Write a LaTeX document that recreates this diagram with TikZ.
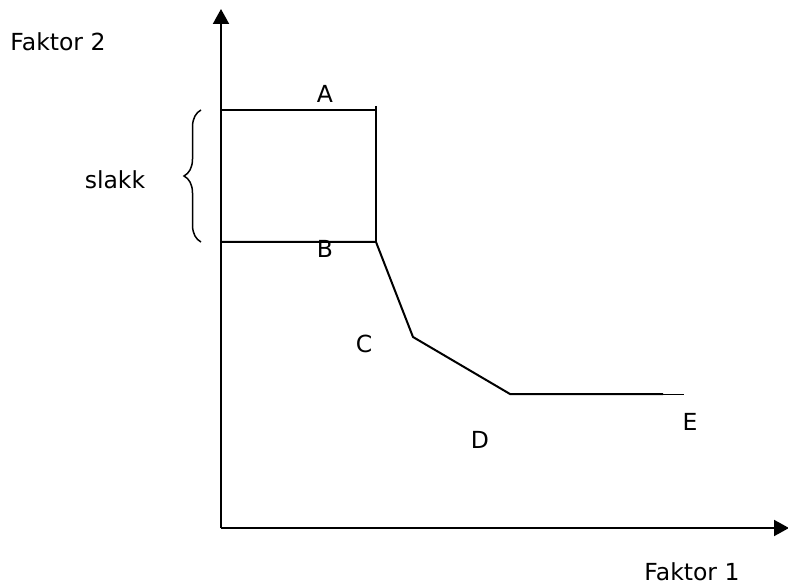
\documentclass[tikz,border=0pt]{standalone}
\usepackage{fontspec}
\setmainfont{DejaVu Sans}
\usetikzlibrary{arrows.meta,decorations.pathreplacing}
\begin{document}
\begin{tikzpicture}[x=1pt,y=-1pt,
  lbl/.style={inner sep=0pt,font=\fontsize{23.5}{27}\selectfont},
  curve/.style={line width=2pt,line join=miter},
  axis/.style={line width=2pt,-{Triangle[width=16pt,length=15pt]}}]
\useasboundingbox (0,0) rectangle (788,588);
\coordinate (O) at (221,528);
\coordinate (ytop) at (221,9);
\coordinate (xend) at (789,528);
\draw[axis] (O) -- (ytop);
\draw[axis] (O) -- (xend);
\coordinate (a0) at (221,110);
\coordinate (a1) at (376,110);
\coordinate (a1t) at (376,106);
\coordinate (b0) at (221,242);
\coordinate (b1) at (376,242);
\coordinate (c) at (413,337);
\coordinate (d) at (510,394);
\coordinate (e0) at (663,394);
\coordinate (e1) at (684,394);
\draw[curve] (a0) -- (a1);
\draw[curve] (a1t) -- (b1);
\draw[curve] (b0) -- (b1) -- (c) -- (d) -- (e0);
\draw[line width=1pt] (e0) -- (e1);
\coordinate (br0) at (201,242);
\coordinate (br1) at (201,110);
\draw[line width=1.5pt,decorate,decoration={brace,amplitude=17pt}] (br0) -- (br1);
\node[lbl] (f2) at (58,42) {Faktor 2};
\node[lbl] (f1) at (692,572) {Faktor 1};
\node[lbl] (sl) at (115,180) {slakk};
\node[lbl] (A) at (325,94) {A};
\node[lbl] (B) at (325,249) {B};
\node[lbl] (C) at (364,344) {C};
\node[lbl] (D) at (480,440) {D};
\node[lbl] (E) at (690,422) {E};
\end{tikzpicture}
\end{document}
